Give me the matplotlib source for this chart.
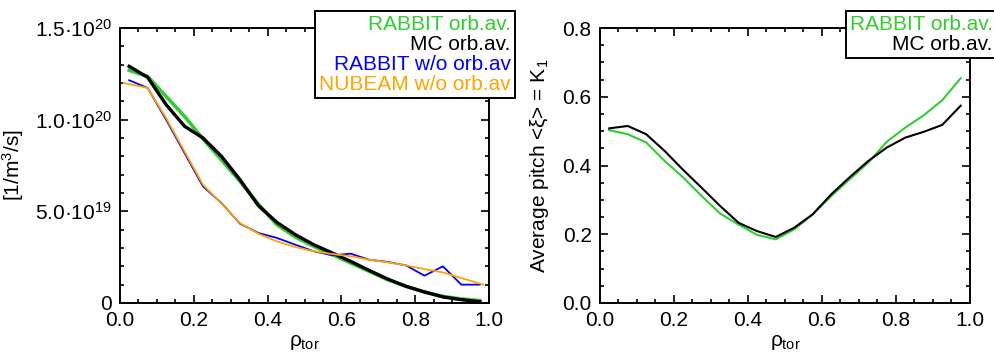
import numpy as np
import matplotlib
matplotlib.use("Agg")
import matplotlib.pyplot as plt
from matplotlib.ticker import MultipleLocator, FixedLocator

plt.rcParams['font.family'] = ['Liberation Sans', 'DejaVu Sans']
plt.rcParams['mathtext.fontset'] = 'custom'
plt.rcParams['mathtext.rm'] = 'Liberation Sans'
plt.rcParams['mathtext.it'] = 'Liberation Sans'

rho = np.arange(0.025, 1.0, 0.05)
rho_nubeam = np.array([0.01, 0.075, 0.125, 0.175, 0.225, 0.275, 0.325, 0.375, 0.425, 0.475,
                       0.525, 0.575, 0.625, 0.675, 0.725, 0.775, 0.825, 0.875, 0.925, 0.985])

# birth source profiles, units of 1e20 1/m^3/s
rabbit_orb = np.array([1.269, 1.236, 1.127, 1.018, 0.895, 0.780, 0.664, 0.540, 0.427, 0.360,
                       0.309, 0.264, 0.218, 0.173, 0.127, 0.091, 0.060, 0.036, 0.022, 0.013])
mc_orb = np.array([1.291, 1.231, 1.082, 0.964, 0.900, 0.800, 0.673, 0.531, 0.440, 0.373,
                   0.318, 0.273, 0.227, 0.178, 0.131, 0.091, 0.060, 0.033, 0.018, 0.007])
rabbit_noorb = np.array([1.215, 1.173, 1.000, 0.818, 0.636, 0.545, 0.433, 0.382, 0.355, 0.318,
                         0.282, 0.260, 0.269, 0.236, 0.224, 0.205, 0.149, 0.200, 0.100, 0.100])
nubeam_noorb = np.array([1.200, 1.173, 1.009, 0.827, 0.645, 0.542, 0.436, 0.378, 0.336, 0.305,
                         0.282, 0.267, 0.255, 0.236, 0.222, 0.205, 0.185, 0.167, 0.136, 0.100])

# average pitch
pitch_rabbit = np.array([0.503, 0.491, 0.467, 0.413, 0.365, 0.311, 0.260, 0.228, 0.198, 0.185,
                         0.214, 0.258, 0.311, 0.360, 0.408, 0.469, 0.510, 0.546, 0.590, 0.654])
pitch_mc = np.array([0.508, 0.515, 0.491, 0.442, 0.387, 0.335, 0.282, 0.233, 0.209, 0.192,
                     0.219, 0.258, 0.316, 0.366, 0.413, 0.452, 0.481, 0.498, 0.518, 0.574])

ytick_vals = [0, 0.5e20, 1.0e20, 1.5e20]
ytick_labels = ['0', '5.0·10$^{19}$', '1.0·10$^{20}$', '1.5·10$^{20}$']

green = '#33cc33'
blue = '#0000ff'
orange = '#ffa500'
fs = 15

fig = plt.figure(figsize=(9.94, 3.61), dpi=100)
ax1 = fig.add_axes([0.1207, 0.1607, 0.3713, 0.7617])
ax2 = fig.add_axes([0.6036, 0.1607, 0.3722, 0.7617])


def style(ax):
    for s in ax.spines.values():
        s.set_linewidth(1.4)
    ax.tick_params(which='both', direction='in', top=True, right=True, width=1.2,
                   labelsize=fs, colors='black')
    ax.tick_params(which='major', length=6, pad=6)
    ax.tick_params(which='minor', length=3)
    ax.set_xlim(0, 1)
    ax.xaxis.set_major_locator(MultipleLocator(0.2))
    ax.xaxis.set_minor_locator(MultipleLocator(0.05))
    ax.xaxis.set_major_formatter(plt.FormatStrFormatter('%.1f'))
    ax.set_xlabel(r'$\rho_{\rm tor}$', fontsize=fs, labelpad=2)


style(ax1)
ax1.plot(rho, rabbit_orb * 1e20, color=green, lw=2.6)
ax1.plot(rho, mc_orb * 1e20, color='black', lw=2.4)
ax1.plot(rho, rabbit_noorb * 1e20, color=blue, lw=1.3)
ax1.plot(rho_nubeam, nubeam_noorb * 1e20, color=orange, lw=1.3)
ax1.set_ylim(0, 1.5e20)
ax1.yaxis.set_major_locator(FixedLocator(ytick_vals))
ax1.set_yticklabels(ytick_labels)
ax1.yaxis.set_minor_locator(MultipleLocator(0.1e20))
ax1.set_ylabel(r'[1/m$^3$/s]', fontsize=fs, labelpad=6)

style(ax2)
ax2.plot(rho, pitch_rabbit, color=green, lw=1.5)
ax2.plot(rho, pitch_mc, color='black', lw=1.5)
ax2.set_ylim(0, 0.8)
ax2.yaxis.set_major_locator(MultipleLocator(0.2))
ax2.yaxis.set_minor_locator(MultipleLocator(0.05))
ax2.yaxis.set_major_formatter(plt.FormatStrFormatter('%.1f'))
ax2.set_ylabel(r'Average pitch <$\xi$> = K$_1$', fontsize=fs, labelpad=8)


def text_legend(ax, labels, colors, anchor):
    handles = [plt.Line2D([], [], color='none') for _ in labels]
    leg = ax.legend(handles, labels, loc='upper right', bbox_to_anchor=anchor,
                    bbox_transform=fig.transFigure, handlelength=0, handletextpad=0,
                    markerfirst=False, fontsize=fs, labelspacing=0.05,
                    borderpad=0.2, borderaxespad=0, fancybox=False,
                    framealpha=1, edgecolor='black')
    leg.get_frame().set_linewidth(1.4)
    for t, c in zip(leg.get_texts(), colors):
        t.set_color(c)
    leg.set_zorder(5)
    return leg


text_legend(ax1, ['RABBIT orb.av.', 'MC orb.av.', 'RABBIT w/o orb.av', 'NUBEAM w/o orb.av'],
            [green, 'black', blue, orange], (0.518, 0.97))
text_legend(ax2, ['RABBIT orb.av.', 'MC orb.av.'], [green, 'black'], (1.003, 0.97))

fig.savefig('out.png', dpi=100)
